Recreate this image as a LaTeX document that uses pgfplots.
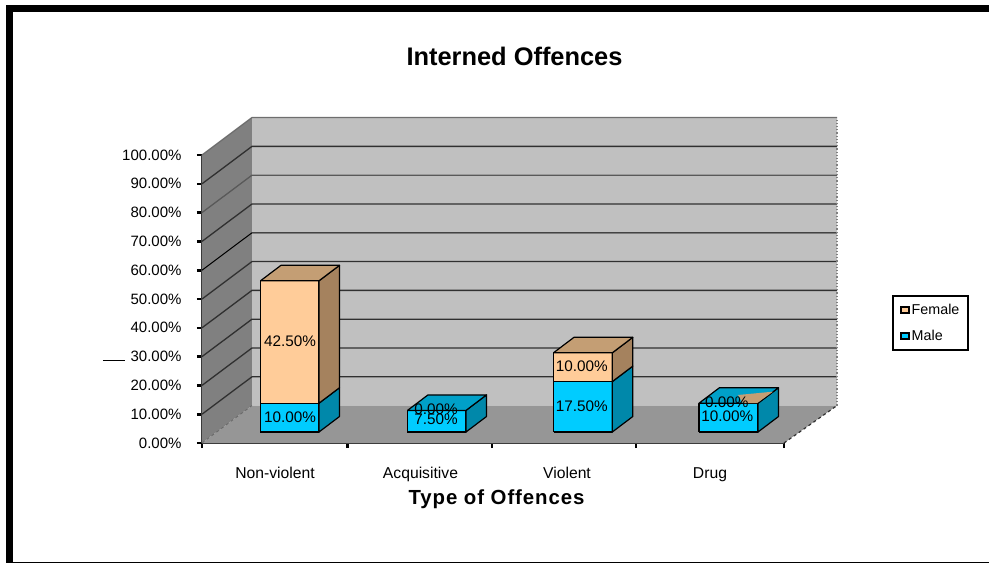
\documentclass[border=0pt]{standalone}
\usepackage{pgfplots}
\pgfplotsset{compat=1.18}
\usepackage{fontspec}
\setmainfont{Liberation Sans}
\definecolor{wallback}{HTML}{C0C0C0}
\definecolor{wallside}{HTML}{808080}
\definecolor{floorc}{HTML}{969696}
\definecolor{gridc}{HTML}{303030}
\definecolor{femf}{HTML}{FFCC99}
\definecolor{femt}{HTML}{C49E74}
\definecolor{fems}{HTML}{A5825E}
\definecolor{malf}{HTML}{00CCFF}
\definecolor{malt}{HTML}{00A0C8}
\definecolor{mals}{HTML}{0088AA}
\newcommand{\fs}[1]{\fontsize{#1}{#1}\selectfont}
\begin{document}
\begin{tikzpicture}[x=1pt,y=1pt]
\useasboundingbox (-202pt,-120pt) rectangle (787pt,443pt);
\begin{axis}[
  at={(0pt,0pt)}, anchor=south west,
  scale only axis, width=582pt, height=288pt,
  xmin=202, xmax=784, ymin=0, ymax=100,
  clip=false,
  axis lines=left,
  axis line style={-, draw=gridc, line width=1pt},
  major tick style={black, line width=2.6pt},
  every major tick/.append style={black, line width=2.6pt},
  tick align=outside,
  major tick length=5pt,
  ytick={0,10,...,100},
  yticklabels={0.00\%,10.00\%,20.00\%,30.00\%,40.00\%,50.00\%,60.00\%,70.00\%,80.00\%,90.00\%,100.00\%},
  yticklabel style={font=\fs{15}, xshift=-12pt},
  xtick={202,347.5,492,636,784},
  xticklabels={},
  extra x ticks={275,420.5,567,710},
  extra x tick labels={Non-violent,Acquisitive,Violent,Drug},
  extra x tick style={major tick length=0pt, xticklabel style={font=\fs{15.7}, yshift=-21pt}},
  title={\textbf{Interned Offences}},
  title style={font=\fs{25.4}, at={(axis description cs:0.537,1.323)}, anchor=center},
  xlabel={\bfseries\addfontfeature{LetterSpace=4.5}Type of Offences},
  xlabel style={font=\fs{20.4}, at={(axis description cs:0.506,-0.1945)}, anchor=center},
  legend style={at={(axis description cs:1.1856,0.5139)}, anchor=north west,
    draw=black, line width=2pt, font=\fs{14.3}, row sep=10pt, inner xsep=7pt, inner ysep=6pt, fill=white},
  legend cell align=left,
  wall/.style={forget plot, draw=none},
  grd/.style={forget plot, draw=gridc, line width=1.3pt},
  box/.style={forget plot, draw=black, line width=1.2pt, line join=round, y filter/.expression={y+3.82}},
]
\addlegendimage{legend image code/.code={\draw[fill=femf,draw=black,line width=1.7pt] (0pt,-3pt) rectangle (8pt,3pt);}}
\addlegendentry{Female}
\addlegendimage{legend image code/.code={\draw[fill=malf,draw=black,line width=1.7pt] (0pt,-3pt) rectangle (8pt,3pt);}}
\addlegendentry{Male}
% walls and floor
\addplot[wall, fill=wallback] coordinates {(252,13)(837,13)(837,113)(252,113)(252,13)};
\addplot[wall, fill=wallside] coordinates {(202,0)(252,13)(252,113)(202,100)(202,0)};
\addplot[wall, fill=floorc] coordinates {(202,0)(784,0)(837,13)(252,13)(202,0)};
% grid lines
\addplot[grd] coordinates {(202,10)(252,23)(837,23)};
\addplot[grd] coordinates {(202,20)(252,33)(837,33)};
\addplot[grd] coordinates {(202,30)(252,43)(837,43)};
\addplot[grd] coordinates {(202,40)(252,53)(837,53)};
\addplot[grd] coordinates {(202,50)(252,63)(837,63)};
\addplot[grd, draw=black, line width=1pt] coordinates {(202,60)(252,73)(837,73)};
\addplot[grd] coordinates {(202,70)(252,83)(837,83)};
\addplot[grd, draw=gridc!80!white] coordinates {(202,80)(252,93)(837,93)};
\addplot[grd] coordinates {(202,90)(252,103)(837,103)};
\addplot[grd, draw=gridc!70!white] coordinates {(202,100)(252,113)(837,113)};
\addplot[forget plot, draw=gray, line width=1.2pt, dotted] coordinates {(837,13)(837,113)};
\addplot[forget plot, draw=gridc, line width=1.2pt, dashed] coordinates {(784,0)(837,13)};
\addplot[forget plot, draw=gray!80!black, line width=0.8pt, dashed] coordinates {(202,0)(252,13)};
% Non-violent: male 10, female 42.5
\addplot[box, fill=malf] coordinates {(260.5,0)(319,0)(319,10)(260.5,10)(260.5,0)};
\addplot[box, fill=mals] coordinates {(319,0)(339.5,5.38)(339.5,15.38)(319,10)(319,0)};
\addplot[box, fill=femf] coordinates {(260.5,10)(319,10)(319,52.5)(260.5,52.5)(260.5,10)};
\addplot[box, fill=fems] coordinates {(319,10)(339.5,15.38)(339.5,57.88)(319,52.5)(319,10)};
\addplot[box, fill=femt] coordinates {(260.5,52.5)(319,52.5)(339.5,57.88)(281,57.88)(260.5,52.5)};
% Acquisitive: male 7.5, female 0
\addplot[box, fill=malf] coordinates {(407.5,0)(466,0)(466,7.5)(407.5,7.5)(407.5,0)};
\addplot[box, fill=mals] coordinates {(466,0)(486.5,5.38)(486.5,12.88)(466,7.5)(466,0)};
\addplot[box, fill=malt] coordinates {(407.5,7.5)(466,7.5)(486.5,12.88)(428,12.88)(407.5,7.5)};
% Violent: male 17.5, female 10
\addplot[box, fill=malf] coordinates {(553.5,0)(612.3,0)(612.3,17.5)(553.5,17.5)(553.5,0)};
\addplot[box, fill=mals] coordinates {(612.3,0)(632.8,5.38)(632.8,22.88)(612.3,17.5)(612.3,0)};
\addplot[box, fill=femf] coordinates {(553.5,17.5)(612.3,17.5)(612.3,27.5)(553.5,27.5)(553.5,17.5)};
\addplot[box, fill=fems] coordinates {(612.3,17.5)(632.8,22.88)(632.8,32.88)(612.3,27.5)(612.3,17.5)};
\addplot[box, fill=femt] coordinates {(553.5,27.5)(612.3,27.5)(632.8,32.88)(574,32.88)(553.5,27.5)};
% Drug: male 10, female 0
\addplot[box, fill=malf] coordinates {(699,0)(758,0)(758,10)(699,10)(699,0)};
\addplot[box, fill=mals] coordinates {(758,0)(778.5,5.38)(778.5,15.38)(758,10)(758,0)};
\addplot[box, fill=malt] coordinates {(699,10)(758,10)(778.5,15.38)(719.5,15.38)(699,10)};
\addplot[box, fill=femt, draw=none] coordinates {(743,10)(757,10)(773,14)(738,12.85)(743,10)};
% data labels
\node[font=\fs{15.3}] at (axis cs:290,35.2) {42.50\%};
\node[font=\fs{15.3}] at (axis cs:290,9) {10.00\%};
\node[font=\fs{15.3}] at (axis cs:436,11.8) {0.00\%};
\node[font=\fs{15.3}] at (axis cs:436,8.2) {7.50\%};
\node[font=\fs{15.3}] at (axis cs:581.7,26.5) {10.00\%};
\node[font=\fs{15.3}] at (axis cs:581.7,12.8) {17.50\%};
\node[font=\fs{15.3}] at (axis cs:726.7,14.3) {0.00\%};
\node[font=\fs{15.3}] at (axis cs:727.3,9.4) {10.00\%};
\end{axis}
% outer frame
\fill[black] (-196pt,438pt) rectangle (787pt,431pt);
\fill[black] (-196pt,438pt) rectangle (-189pt,-120pt);
\fill[black] (-189pt,-118.5pt) rectangle (787pt,-120pt);
\draw[black, line width=0.9pt] (-99pt,83pt) -- (-77pt,83pt);
\end{tikzpicture}
\end{document}
